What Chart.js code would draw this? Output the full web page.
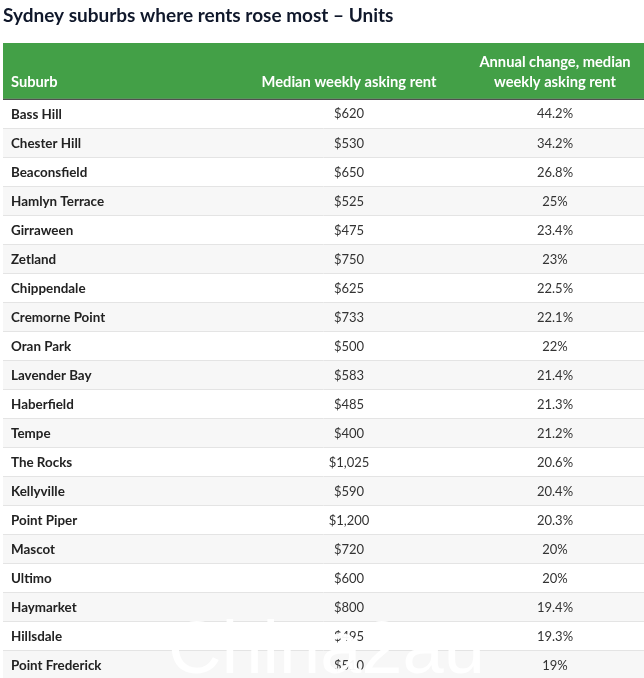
<!DOCTYPE html>
<html>
<head>
<meta charset="utf-8">
<script src="https://cdn.jsdelivr.net/npm/chart.js@4"></script>
<style>
  html, body { margin: 0; padding: 0; background: #fff; overflow: hidden; }
  #wrap { width: 644px; height: 680px; }
</style>
</head>
<body>
<div id="wrap"><canvas id="rentTable"></canvas></div>
<script>
const suburbs = ["Bass Hill", "Chester Hill", "Beaconsfield", "Hamlyn Terrace", "Girraween", "Zetland", "Chippendale", "Cremorne Point", "Oran Park", "Lavender Bay", "Haberfield", "Tempe", "The Rocks", "Kellyville", "Point Piper", "Mascot", "Ultimo", "Haymarket", "Hillsdale", "Point Frederick"];
const rents = [620, 530, 650, 525, 475, 750, 625, 733, 500, 583, 485, 400, 1025, 590, 1200, 720, 600, 800, 495, 510];
const changes = [44.2, 34.2, 26.8, 25, 23.4, 23, 22.5, 22.1, 22, 21.4, 21.3, 21.2, 20.6, 20.4, 20.3, 20, 20, 19.4, 19.3, 19];
const headers = ["Suburb", ["Median weekly asking rent"], ["Annual change, median", "weekly asking rent"]];
const chartTitle = "Sydney suburbs where rents rose most \u2013 Units";
const watermark = "China2au";

const FONT = "Lato";
const RENT_X = 349, CHANGE_X = 555, TABLE_LEFT = 3;

// thead and the cell texts, placed on the rows of the y scale
const tablePlugin = {
  id: "tablePlugin",
  afterDraw(chart) {
    const { ctx, scales: { y }, chartArea } = chart;
    ctx.save();
    // header band
    ctx.fillStyle = "#43a047";
    ctx.fillRect(TABLE_LEFT, 43, 644 - TABLE_LEFT, chartArea.top - 44);
    ctx.fillStyle = "#2b2b2b";
    ctx.fillRect(TABLE_LEFT, chartArea.top - 1, 644 - TABLE_LEFT, 1);
    ctx.fillStyle = "#fff";
    ctx.font = "bold 14.7px " + FONT;
    ctx.textBaseline = "middle";
    ctx.textAlign = "left";
    ctx.fillText(headers[0], 11, 82);
    ctx.textAlign = "center";
    ctx.fillText(headers[1][0], RENT_X, 82);
    ctx.fillText(headers[2][0], CHANGE_X, 62);
    ctx.fillText(headers[2][1], CHANGE_X, 82);
    // body cells
    ctx.font = "13px " + FONT;
    ctx.fillStyle = "#333";
    suburbs.forEach((s, i) => {
      const py = y.getPixelForValue(i);
      ctx.fillText("$" + rents[i].toLocaleString("en-US"), RENT_X, py);
      ctx.fillText(changes[i] + "%", CHANGE_X, py);
    });
    // watermark
    ctx.fillStyle = "rgba(255,255,255,0.96)";
    ctx.font = "74px 'Liberation Sans'";
    ctx.textAlign = "left";
    ctx.textBaseline = "alphabetic";
    ctx.fillText(watermark, 168, 673);
    ctx.restore();
  }
};

new Chart(document.getElementById("rentTable"), {
  type: "bar",
  plugins: [tablePlugin],
  data: {
    labels: suburbs,
    datasets: [{
      // full-width row stripes
      data: suburbs.map(() => 1),
      backgroundColor: suburbs.map((s, i) => (i % 2 ? "#f7f7f7" : "#ffffff")),
      borderWidth: 0,
      barPercentage: 1,
      categoryPercentage: 1
    }]
  },
  options: {
    indexAxis: "y",
    responsive: true,
    maintainAspectRatio: false,
    animation: false,
    layout: { padding: { top: 0, left: TABLE_LEFT, right: 0, bottom: 0 } },
    plugins: {
      legend: { display: false },
      tooltip: { enabled: false },
      title: {
        display: true,
        text: chartTitle,
        align: "start",
        color: "#10182b",
        font: { family: FONT, size: 19, weight: "bold" },
        padding: { top: 4, bottom: 73 }
      }
    },
    scales: {
      x: { min: 0, max: 1, display: false },
      y: {
        position: "left",
        offset: true,
        grid: { color: "#e4e4e4", lineWidth: 1, drawTicks: false, offset: true, z: 1 },
        border: { display: false },
        afterFit(scale) {
          scale.width = 0;
          scale.paddingTop = 0;
          scale.paddingBottom = 0;
        },
        ticks: {
          mirror: true,
          padding: 8,
          crossAlign: "near",
          color: "#222",
          font: { family: FONT, size: 13.4, weight: "bold" },
          z: 2
        }
      }
    }
  }
});
</script>
</body>
</html>
